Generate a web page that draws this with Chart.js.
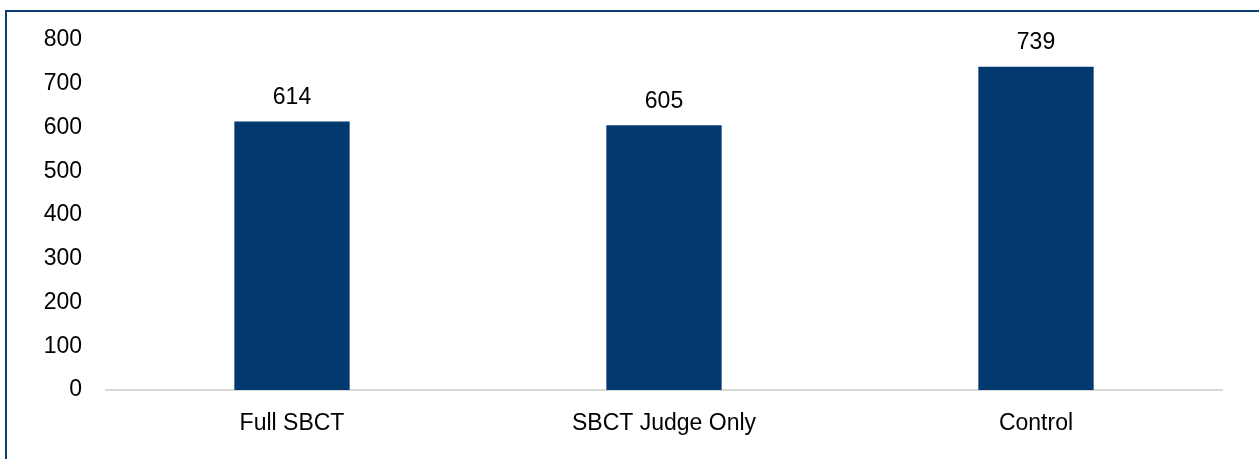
<!DOCTYPE html>
<html>
<head>
<meta charset="utf-8">
<script src="https://cdn.jsdelivr.net/npm/chart.js@4.4.1/dist/chart.umd.min.js"></script>
<style>
    html, body { margin: 0; padding: 0; background: #fff; }
    #wrap { position: relative; width: 1259px; height: 459px; overflow: hidden; }
    #frame {
        position: absolute; left: 5px; top: 10px; width: 1300px; height: 500px;
        border-left: 2px solid #0b3c73; border-top: 2px solid #0b3c73;
    }
    canvas { position: absolute; left: 0; top: 0; }
</style>
</head>
<body>
<div id="wrap">
    <div id="frame"></div>
    <canvas id="chart" width="1259" height="459"></canvas>
</div>
<script>
// Chart data
const categories = ['Full SBCT', 'SBCT Judge Only', 'Control'];
const values = [614, 605, 739];
const yTicks = [0, 100, 200, 300, 400, 500, 600, 700, 800];

const barColor = '#02396e';
const fontFamily = '"Liberation Sans", Arial, sans-serif';
const fontSize = 23;

// Value labels above each bar
const barLabels = {
    id: 'barLabels',
    afterDatasetsDraw(chart) {
        const ctx = chart.ctx;
        const meta = chart.getDatasetMeta(0);
        ctx.save();
        ctx.font = fontSize + 'px ' + fontFamily;
        ctx.fillStyle = '#000';
        ctx.textAlign = 'center';
        ctx.textBaseline = 'middle';
        meta.data.forEach((bar, i) => {
            ctx.fillText(String(values[i]), bar.x, bar.y - 24);
        });
        ctx.restore();
    }
};

new Chart(document.getElementById('chart'), {
    type: 'bar',
    data: {
        labels: categories,
        datasets: [{
            data: values,
            backgroundColor: barColor,
            borderWidth: 0,
            categoryPercentage: 1,
            barPercentage: 0.31
        }]
    },
    options: {
        responsive: false,
        animation: false,
        layout: { padding: { left: 0, right: 37, top: 40, bottom: 0 } },
        plugins: {
            legend: { display: false },
            tooltip: { enabled: false }
        },
        scales: {
            x: {
                grid: { display: false, drawTicks: false },
                border: { display: true, color: '#d9d9d9', width: 2 },
                ticks: {
                    color: '#000',
                    padding: 20,
                    font: { size: fontSize, family: fontFamily }
                },
                afterFit: (scale) => { scale.height = 69; }
            },
            y: {
                min: 0,
                max: 800,
                afterBuildTicks: (scale) => { scale.ticks = yTicks.map(v => ({ value: v })); },
                grid: { display: false, drawTicks: false },
                border: { display: false },
                ticks: {
                    color: '#000',
                    padding: 24,
                    font: { size: fontSize, family: fontFamily, lineHeight: 1.05 }
                },
                afterFit: (scale) => { scale.width = 106; }
            }
        }
    },
    plugins: [barLabels]
});
</script>
</body>
</html>
